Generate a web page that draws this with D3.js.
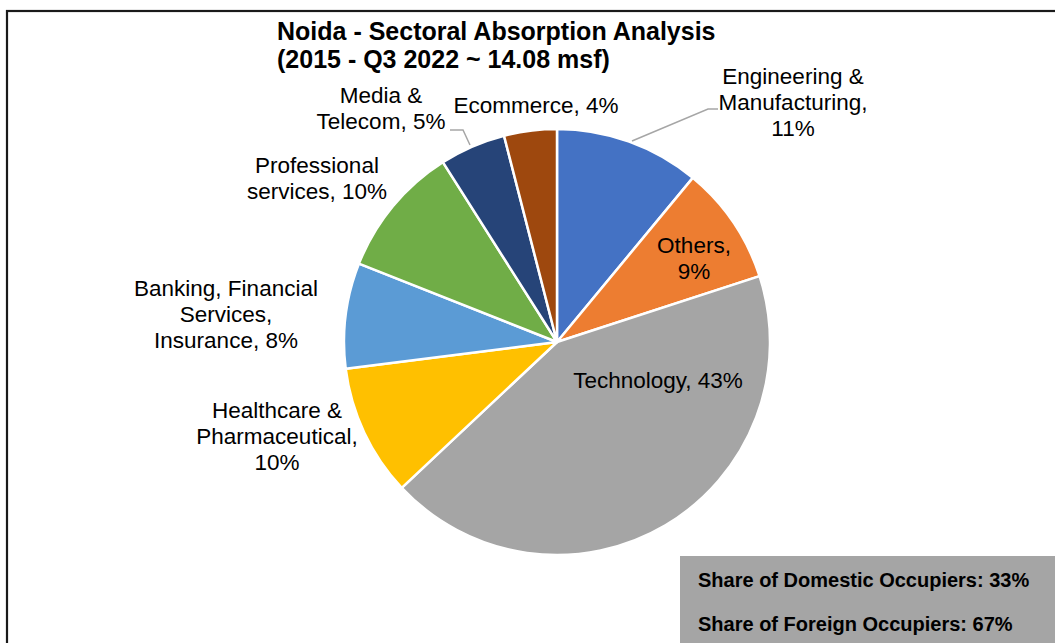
<!DOCTYPE html>
<html>
<head>
<meta charset="utf-8">
<script src="https://cdn.jsdelivr.net/npm/d3@7"></script>
<style>
  html, body { margin: 0; padding: 0; background: #fff; }
  svg { display: block; font-family: "Liberation Sans", Arial, sans-serif; }
</style>
</head>
<body>
<svg id="chart" width="1055" height="643"></svg>
<script>
// ---- data ----
const categories = [
  "Engineering & Manufacturing",
  "Others",
  "Technology",
  "Healthcare & Pharmaceutical",
  "Banking, Financial Services, Insurance",
  "Professional services",
  "Media & Telecom",
  "Ecommerce"
];
const values = [11, 9, 43, 10, 8, 10, 5, 4];
const colors = ["#4472C4", "#ED7D31", "#A5A5A5", "#FFC000", "#5B9BD5", "#70AD47", "#264478", "#9E480E"];
const labelLines = [
  ["Engineering &", "Manufacturing,", "11%"],
  ["Others,", "9%"],
  ["Technology, 43%"],
  ["Healthcare &", "Pharmaceutical,", "10%"],
  ["Banking, Financial", "Services,", "Insurance, 8%"],
  ["Professional", "services, 10%"],
  ["Media &", "Telecom, 5%"],
  ["Ecommerce, 4%"]
];
const titleLines = ["Noida - Sectoral Absorption Analysis", "(2015 - Q3 2022 ~ 14.08 msf)"];
const occupierLines = ["Share of Domestic Occupiers: 33%", "Share of Foreign Occupiers: 67%"];

// ---- layout (positions kept separate from data) ----
const cx = 557, cy = 342, R = 213;
const labelAnchor = [
  [793, 84], [694, 253], [658, 388], [277, 418],
  [226, 296], [317, 173], [381, 103], [536, 113]
];
const lineH = 26;

const svg = d3.select("#chart");

// outer border (extends beyond the viewport)
svg.append("rect")
  .attr("x", 7).attr("y", 11)
  .attr("width", 1100).attr("height", 700)
  .attr("fill", "#fff")
  .attr("stroke", "#1a1a1a").attr("stroke-width", 2.2);

// title
const title = svg.append("text")
  .attr("font-weight", "bold").attr("font-size", 25).attr("fill", "#000");
titleLines.forEach((t, i) => {
  title.append("tspan").attr("x", 277).attr("y", 40 + i * 28).text(t);
});

// pie
const pie = d3.pie().sort(null).value(d => d)(values);
const arc = d3.arc().innerRadius(0).outerRadius(R);
const g = svg.append("g").attr("transform", `translate(${cx},${cy})`);
g.selectAll("path").data(pie).join("path")
  .attr("d", arc)
  .attr("fill", (d, i) => colors[i])
  .attr("stroke", "#fff").attr("stroke-width", 2.5)
  .attr("stroke-linejoin", "round");

// leader lines
const leaders = [
  [[632, 141], [708, 109], [718, 109]],
  [[450, 130], [463, 130], [470, 145]]
];
svg.selectAll("path.leader").data(leaders).join("path")
  .attr("class", "leader")
  .attr("d", d => d3.line()(d))
  .attr("fill", "none").attr("stroke", "#A6A6A6").attr("stroke-width", 1.5);

// labels
labelLines.forEach((lines, i) => {
  const [x, y] = labelAnchor[i];
  const t = svg.append("text")
    .attr("text-anchor", "middle").attr("font-size", 22.5).attr("fill", "#000");
  lines.forEach((l, j) => {
    t.append("tspan").attr("x", x).attr("y", y + j * lineH).text(l);
  });
});

// occupier box
svg.append("rect")
  .attr("x", 680).attr("y", 556).attr("width", 400).attr("height", 120)
  .attr("fill", "#A5A5A5");
occupierLines.forEach((l, i) => {
  svg.append("text")
    .attr("x", 698).attr("y", 587 + i * 44)
    .attr("font-size", 20).attr("font-weight", "bold").attr("fill", "#000")
    .text(l);
});
</script>
</body>
</html>
